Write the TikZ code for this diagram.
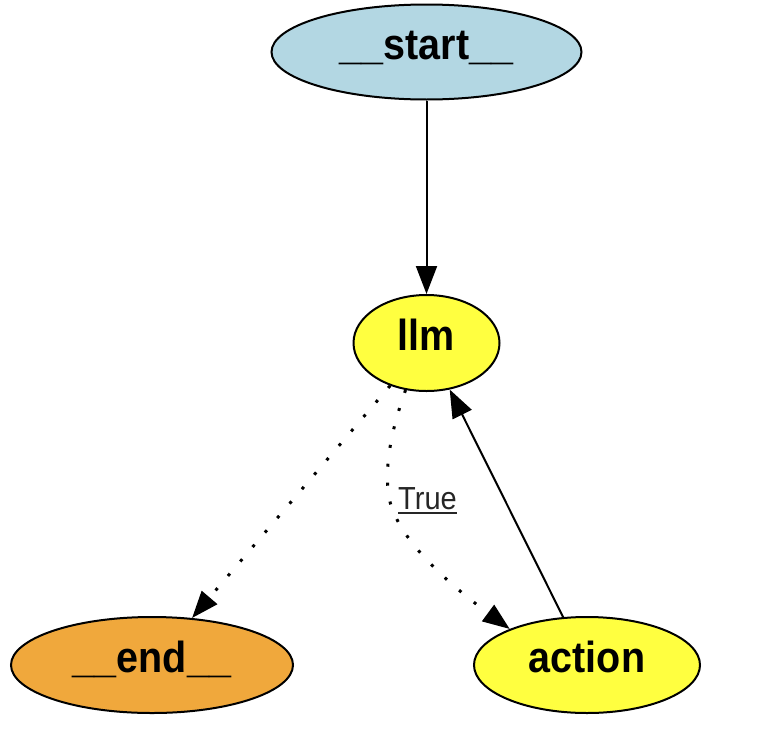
\documentclass[tikz,border=0pt]{standalone}
\usepackage{fontspec}
\setmainfont{Liberation Sans}
\usetikzlibrary{shapes.geometric,arrows.meta}
\definecolor{startblue}{RGB}{179,215,227}
\definecolor{llmyellow}{RGB}{255,255,64}
\definecolor{endorange}{RGB}{240,168,60}
\tikzset{
  gnode/.style={ellipse,draw=black,line width=2pt,inner sep=0pt,
    font=\fontsize{39.5}{40}\selectfont\bfseries,text height=24pt,text depth=10pt},
  edge/.style={line width=2pt,-{Triangle[length=28pt,width=21pt]}},
  dotedge/.style={line width=3pt,-{Triangle[length=27pt,width=20pt]},dash pattern=on 3pt off 16pt},
}
\newcommand{\vs}[1]{\scalebox{1}[1.1]{#1}}
\begin{document}
\begin{tikzpicture}[x=1pt,y=-1pt]
\useasboundingbox (0,0) rectangle (784,744);
\node[gnode,fill=startblue,minimum width=310pt,minimum height=95pt] (start) at (426.5,52) {\vs{\_\_start\_\_}};
\node[gnode,fill=llmyellow,minimum width=146pt,minimum height=96pt] (llm) at (426.5,343) {\vs{llm}};
\node[gnode,fill=endorange,minimum width=282pt,minimum height=96pt] (end) at (152,665) {\vs{\_\_end\_\_}};
\node[gnode,fill=llmyellow,minimum width=226pt,minimum height=96pt] (action) at (587,665) {\vs{action}};
\draw[edge] (start) -- (llm);
\draw[dotedge] (llm) -- (end);
\coordinate (mid) at (388,490);
\draw[dotedge] (llm.-114) .. controls (395,420) and (385,455) .. (mid) .. controls (391,535) and (450,585) .. (action.155);
\draw[edge] (action) -- (llm);
\node[anchor=base west,inner sep=0pt,font=\fontsize{29}{30}\selectfont,text=black!85] (lbl) at (398,509) {\vs{True}};
\draw[line width=1.6pt,black!85] ([yshift=-4pt]lbl.base west) coordinate (ul1) -- ([yshift=-4pt]lbl.base east) coordinate (ul2);
\end{tikzpicture}
\end{document}
